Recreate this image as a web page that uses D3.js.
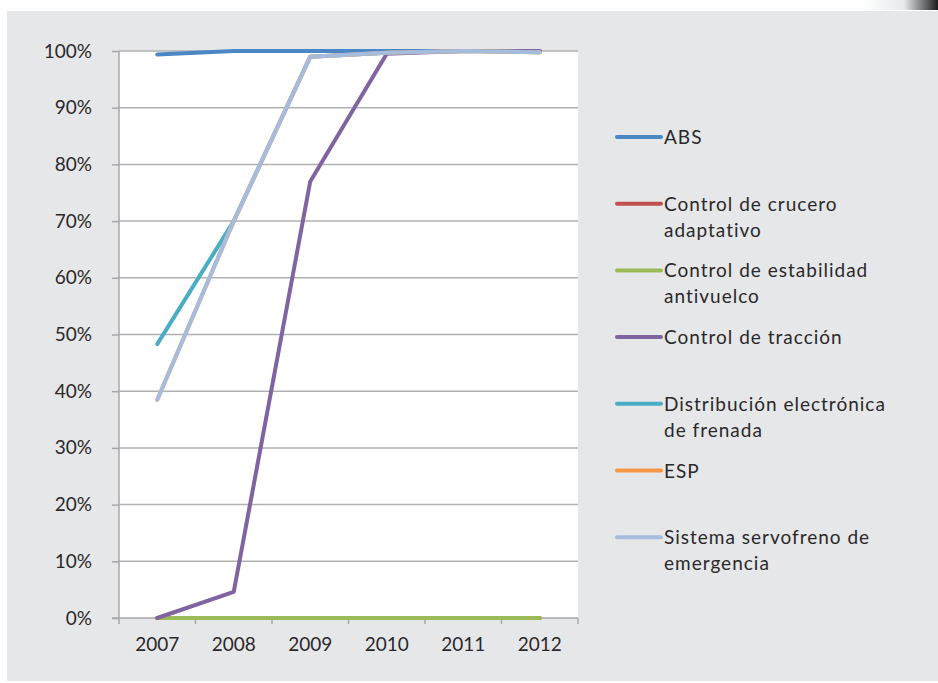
<!DOCTYPE html>
<html>
<head>
<meta charset="utf-8">
<script src="https://cdn.jsdelivr.net/npm/d3@7"></script>
<style>
  body { margin: 0; background: #fff; }
  text { font-family: Lato, "DejaVu Sans", sans-serif; fill: #2b2829; }
</style>
</head>
<body>
<div id="chart"></div>
<script>
var years = ["2007", "2008", "2009", "2010", "2011", "2012"];
var seriesNames = [
  "ABS",
  "Control de crucero adaptativo",
  "Control de estabilidad antivuelco",
  "Control de tracción",
  "Distribución electrónica de frenada",
  "ESP",
  "Sistema servofreno de emergencia"
];
var abs = [99.4, 100, 100, 100, 100, 100];
var crucero = [0, 0, 0, 0, 0, 0];
var antivuelco = [0, 0, 0, 0, 0, 0];
var traccion = [0, 4.6, 77, 99.5, 100, 100];
var distribucion = [48.3, 70, 99, 99.7, 100, 99.8];
var esp = [38.5, 70, 99, 99.7, 100, 99.8];
var servofreno = [38.5, 70, 99, 99.7, 100, 99.8];
var yTicks = [0, 10, 20, 30, 40, 50, 60, 70, 80, 90, 100];
var legendLines = [
  ["ABS"],
  ["Control de crucero", "adaptativo"],
  ["Control de estabilidad", "antivuelco"],
  ["Control de tracción"],
  ["Distribución electrónica", "de frenada"],
  ["ESP"],
  ["Sistema servofreno de", "emergencia"]
];

var colors = ["#4a87c6", "#c0504d", "#9bbb59", "#8064a2", "#4bacc6", "#f79646", "#a6bcde"];
var allSeries = [abs, crucero, antivuelco, traccion, distribucion, esp, servofreno];

var svgWidth = 938, svgHeight = 683;
var plot = { left: 119, top: 51, right: 578, bottom: 618 };

var svg = d3.select("#chart").append("svg")
  .attr("width", svgWidth)
  .attr("height", svgHeight);

// page panel
var defs = svg.append("defs");
var grad = defs.append("linearGradient").attr("id", "shade").attr("x1", 0).attr("x2", 1);
grad.append("stop").attr("offset", "0%").attr("stop-color", "#ffffff");
grad.append("stop").attr("offset", "55%").attr("stop-color", "#e8eaec");
grad.append("stop").attr("offset", "100%").attr("stop-color", "#1c1c1c");
svg.append("rect").attr("x", 862).attr("y", 0).attr("width", 76).attr("height", 10).attr("fill", "url(#shade)");
svg.append("rect")
  .attr("x", 7).attr("y", 11)
  .attr("width", svgWidth - 7).attr("height", svgHeight - 13)
  .attr("fill", "#e6e7e9");

// plot area
svg.append("rect")
  .attr("x", plot.left).attr("y", plot.top)
  .attr("width", plot.right - plot.left).attr("height", plot.bottom - plot.top)
  .attr("fill", "#ffffff");

var x = d3.scaleBand().domain(years).range([plot.left, plot.right]);
var y = d3.scaleLinear().domain([0, 100]).range([plot.bottom, plot.top]);

// gridlines
svg.append("g")
  .selectAll("line")
  .data(yTicks.filter(d => d > 0))
  .enter().append("line")
  .attr("x1", plot.left).attr("x2", plot.right)
  .attr("y1", d => y(d)).attr("y2", d => y(d))
  .attr("stroke", "#b1b1b3").attr("stroke-width", 1.5);

// y axis
var yAxis = svg.append("g")
  .attr("transform", `translate(${plot.left},0)`)
  .call(d3.axisLeft(y).tickValues(yTicks).tickSize(7).tickPadding(20).tickFormat(d => d + "%"));
yAxis.selectAll("text").attr("font-size", 19).style("font-family", null);
yAxis.selectAll("line, path").attr("stroke", "#a7a7a9").attr("stroke-width", 1.5);
yAxis.select(".domain").attr("d", `M0,${plot.top}V${plot.bottom}`);

// x axis
var xAxis = svg.append("g")
  .attr("transform", `translate(0,${plot.bottom})`)
  .call(d3.axisBottom(x).tickSize(0).tickPadding(20));
xAxis.selectAll("text").attr("font-size", 19).style("font-family", null);
xAxis.select(".domain").attr("stroke", "#a7a7a9").attr("stroke-width", 1.5)
  .attr("d", `M${plot.left - 7},0H${plot.right}`);
xAxis.selectAll(".edge")
  .data(years.map(d => x(d)).concat([plot.right]))
  .enter().append("line")
  .attr("x1", d => d).attr("x2", d => d)
  .attr("y1", 0).attr("y2", 6)
  .attr("stroke", "#a7a7a9").attr("stroke-width", 1.5);

// lines
var line = d3.line()
  .x((d, i) => x(years[i]) + x.bandwidth() / 2)
  .y(d => y(d));

svg.append("g")
  .selectAll("path")
  .data(allSeries)
  .enter().append("path")
  .attr("d", d => line(d))
  .attr("fill", "none")
  .attr("stroke", (d, i) => colors[i])
  .attr("stroke-width", 4)
  .attr("stroke-linecap", "round")
  .attr("stroke-linejoin", "round");

// legend
var legend = svg.append("g");
var item = legend.selectAll("g")
  .data(seriesNames)
  .enter().append("g")
  .attr("transform", (d, i) => `translate(617,${137 + i * 66.7})`);

item.append("line")
  .attr("x1", 0).attr("x2", 44)
  .attr("stroke", (d, i) => colors[i])
  .attr("stroke-width", 4)
  .attr("stroke-linecap", "round");

item.append("text")
  .attr("x", 47)
  .attr("font-size", 19)
  .attr("letter-spacing", 1)
  .selectAll("tspan")
  .data((d, i) => legendLines[i])
  .enter().append("tspan")
  .attr("x", 47)
  .attr("y", (d, j) => 7 + j * 26)
  .text(d => d);
</script>
</body>
</html>
